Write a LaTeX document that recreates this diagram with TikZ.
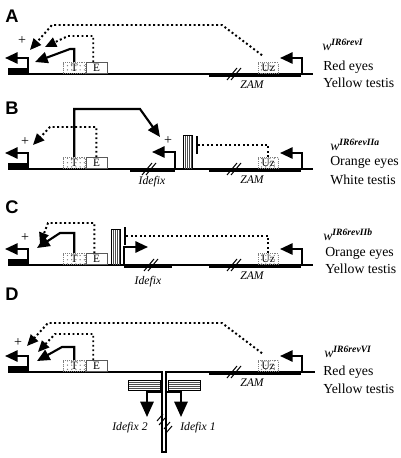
\documentclass[tikz,border=0pt]{standalone}
\usepackage{fontspec}
\setmainfont{Liberation Serif}
\newfontfamily\panelfont{Liberation Sans}
\usetikzlibrary{arrows.meta, patterns}
\tikzset{
    dna/.style={line width=0.8pt},
    tebar/.style={line width=2.4pt},
    prom/.style={line width=1.5pt, -{Triangle[length=9pt,width=8pt]}},
    bigprom/.style={line width=1.5pt, -{Triangle[length=11pt,width=9.5pt]}},
    act/.style={line width=1.5pt, -{Triangle[length=9pt,width=8pt]}},
    enh/.style={line width=1.4pt, dash pattern=on 1.4pt off 1.8pt, -{Triangle[length=8pt,width=7pt]}},
    block/.style={line width=1.4pt, dash pattern=on 1.4pt off 1.8pt, -{Bar[width=13pt]}},
    tbox/.style={draw=gray, densely dotted, pattern=dots, pattern color=gray,
        minimum width=0.55cm, minimum height=0.28cm, inner sep=0pt,
        anchor=south west, font=\fontsize{8}{8}\selectfont},
    ebox/.style={draw=gray!70!black, line width=0.4pt,
        minimum width=0.53cm, minimum height=0.28cm, inner sep=0pt,
        anchor=south west, font=\fontsize{8}{8}\selectfont},
    uzbox/.style={tbox, minimum width=0.5cm},
    hash/.style={line width=0.7pt},
    ins/.style={draw=black, line width=0.5pt},
    stripe/.style={gray!60!black, line width=0.5pt},
    plabel/.style={font=\panelfont\bfseries\fontsize{13}{13}\selectfont, inner sep=0pt},
    pheno/.style={anchor=west, inner sep=0pt, font=\fontsize{9.8}{11}\selectfont},
    tename/.style={inner sep=0pt, font=\itshape\fontsize{8.3}{9}\selectfont},
    plus/.style={inner sep=0pt, font=\fontsize{10}{10}\selectfont}}

\begin{document}
\begin{tikzpicture}[x=0.025cm, y=-0.025cm]
\useasboundingbox (0,0) rectangle (400,458);

% DNA lines
\foreach \yb in {74,169,265}
    \draw[dna] (8,\yb) -- (313,\yb);
\draw[dna] (8,372) -- (162,372) -- (162,452) -- (166,452) -- (166,372) -- (315,372);

% parts shared by every construct
\foreach \p/\yb in {A/74,B/169,C/265,D/372}{
    \fill (8,\yb-6) rectangle (28,\yb);
    \draw[prom] (28,\yb) |- (5,\yb-16);
    \node[tbox] (T\p) at (63,\yb) {T};
    \node[ebox] (E\p) at (T\p.south east) {E};
    \draw[tebar] (209,\yb+1) -- (301,\yb+1);
    \draw[hash] (227,\yb+6) -- ++(10,-12) (231,\yb+6) -- ++(10,-12);
    \node[tename] (zam\p) at (252,\yb+11) {ZAM};
    \node[uzbox] (Uz\p) at (258,\yb) {Uz};
    \draw[prom] (302,\yb) |- (280,\yb-16);
}

% A
\node[plabel] (A) at (12,16) {A};
\node[plus] (plusA) at (22,41) {+};
\draw[act] (TA.north) |- (70,49) -- (35,62);
\draw[enh] ([xshift=-0.08cm]EA.north) |- (68,36) -- (45,47);
\draw[enh] ([shift={(4,-7)}]UzA.north west) -- (222,25) -- (52,25) -- (30,50);
\node[pheno] (gA) at (322,45) {\textit{w}\textsuperscript{\bfseries\itshape IR6revI}};
\node[pheno] (eyeA) at (323,67) {Red eyes};
\node[pheno] (testA) at (323,83) {Yellow testis};

% B
\node[plabel] (B) at (12,108) {B};
\node[plus] (plusB) at (25,142) {+};
\draw[enh] (EB.north) |- (50,127) -- (33,145);
\draw[act] (TB.north) |- (140,109) -- (160,137);
\node[plus] (plusB2) at (168,141) {+};
\draw[tebar] (130,170) -- (175,170);
\draw[hash] (142,175) -- ++(10,-12) (146,175) -- ++(10,-12);
\node[tename] (idB) at (152,182) {Idefix};
\draw[prom] (175,169) |- (152,152);
\foreach \s in {185,187,...,191}
    \draw[stripe] (\s,135) -- (\s,169);
\draw[ins] (183,135) rectangle (192,169);
\draw[block] (UzB.north) |- (196,145);
\node[pheno] (gB) at (330,145) {\textit{w}\textsuperscript{\bfseries\itshape IR6revIIa}};
\node[pheno] (eyeB) at (330,162) {Orange eyes};
\node[pheno] (testB) at (330,180) {White testis};

% C
\node[plabel] (C) at (12,207) {C};
\node[plus] (plusC) at (25,238) {+};
\draw[act] (TC.north) |- (60,233) -- (37,248);
\draw[enh] ([xshift=-0.05cm]EC.north) |- (48,223) -- (40,244);
\foreach \s in {113,115,...,119}
    \draw[stripe] (\s,229) -- (\s,265);
\draw[ins] (111,229) rectangle (120,265);
\draw[tebar] (124,266) -- (172,266);
\draw[hash] (144,271) -- ++(10,-12) (148,271) -- ++(10,-12);
\node[tename] (idC) at (148,282) {Idefix};
\draw[prom] (124,265) |- (148,247);
\draw[block] (UzC.north) |- (124,236);
\node[pheno] (gC) at (323,235) {\textit{w}\textsuperscript{\bfseries\itshape IR6revIIb}};
\node[pheno] (eyeC) at (325,253) {Orange eyes};
\node[pheno] (testC) at (325,269) {Yellow testis};

% D
\node[plabel] (D) at (12,294) {D};
\node[plus] (plusD) at (18,343) {+};
\draw[act] (TD.north) |- (62,347) -- (37,361);
\draw[enh] ([xshift=-0.08cm]ED.north) |- (55,334) -- (38,352);
\draw[enh] ([shift={(4,-7)}]UzD.north west) -- (222,323) -- (48,323) -- (27,346);
\foreach \s in {382,384,...,388}{
    \draw[stripe] (128,\s) -- (160,\s);
    \draw[stripe] (168,\s) -- (200,\s);
}
\draw[ins] (128,380) rectangle (160,390);
\draw[ins] (168,380) rectangle (200,390);
\draw[bigprom] (162,392) -| (147,417);
\draw[bigprom] (166,392) -| (181,417);
\draw[hash] (157,421) -- ++(6,-7) (159,425) -- ++(6,-7);
\draw[hash] (164,429) -- ++(6,-7) (166,433) -- ++(6,-7);
\node[tename] (id2) at (130,428) {Idefix 2};
\node[tename] (id1) at (198,428) {Idefix 1};
\node[pheno] (gD) at (324,352) {\textit{w}\textsuperscript{\bfseries\itshape IR6revVI}};
\node[pheno] (eyeD) at (323,372) {Red eyes};
\node[pheno] (testD) at (323,389) {Yellow testis};
\end{tikzpicture}
\end{document}
